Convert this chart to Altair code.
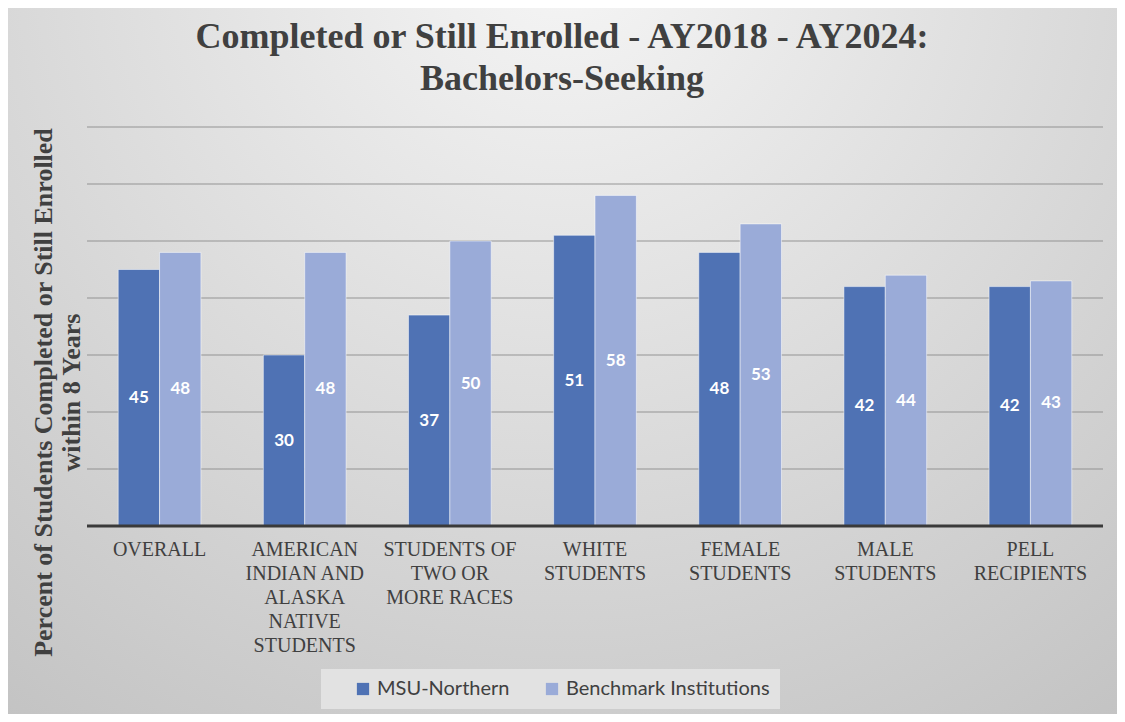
import altair as alt
import pandas as pd

# Categories (line breaks marked with "|").
CATEGORIES = [
    "OVERALL",
    "AMERICAN|INDIAN AND|ALASKA|NATIVE|STUDENTS",
    "STUDENTS OF|TWO OR|MORE RACES",
    "WHITE|STUDENTS",
    "FEMALE|STUDENTS",
    "MALE|STUDENTS",
    "PELL|RECIPIENTS",
]
MSU_NORTHERN = [45, 30, 37, 51, 48, 42, 42]
BENCHMARK = [48, 48, 50, 58, 53, 44, 43]
SERIES = ["MSU-Northern", "Benchmark Institutions"]
GRID_VALUES = [10, 20, 30, 40, 50, 60, 70]

DARK = "#4f72b4"
LIGHT = "#9aabd8"
INK = "#404040"
SERIF = "Liberation Serif"
SANS = "Lato"

W, H = 1016, 399
PAD = {"left": 79, "top": 119, "right": 14, "bottom": 188}

rows = []
for cat, a, b in zip(CATEGORIES, MSU_NORTHERN, BENCHMARK):
    rows.append({"category": cat, "series": SERIES[0], "value": a})
    rows.append({"category": cat, "series": SERIES[1], "value": b})
df = pd.DataFrame(rows)

y_scale = alt.Scale(domain=[0, 70], nice=False)
x_scale = alt.Scale(paddingInner=0.43, paddingOuter=0.215)

x_axis = alt.Axis(
    labelExpr="split(datum.label, '|')",
    labelAngle=0,
    labelFont=SERIF,
    labelFontSize=20,
    labelColor=INK,
    labelLineHeight=24,
    labelPadding=13,
    labelBaseline="top",
    labelLimit=200,
    ticks=False,
    domain=False,
    grid=False,
    zindex=1,
)
y_axis = alt.Axis(
    title=["Percent of  Students Completed or Still Enrolled", "within 8 Years"],
    labels=False,
    ticks=False,
    domain=False,
    grid=False,
    titleFont=SERIF,
    titleFontSize=26,
    titleFontWeight="bold",
    titleColor=INK,
    titleLineHeight=28,
    titleAngle=270,
    titleAlign="center",
    titleBaseline="middle",
    titleX=-44,
    titleY=265,
    titleLimit=700,
    zindex=1,
)

# Full-canvas radial gradient behind everything (Excel chart-area fill).
background = (
    alt.Chart(alt.Data(values=[{}]))
    .mark_rect(
        fill={
            "gradient": "radial",
            "x1": 0.5, "y1": 0.12, "r1": 0,
            "x2": 0.5, "y2": 0.12, "r2": 0.95,
            "stops": [
                {"offset": 0, "color": "#f6f6f6"},
                {"offset": 1, "color": "#bebebe"},
            ],
        }
    )
    .encode(
        x=alt.value(-PAD["left"]),
        x2=alt.value(W + PAD["right"]),
        y=alt.value(-PAD["top"]),
        y2=alt.value(H + PAD["bottom"]),
    )
)

grid = (
    alt.Chart(pd.DataFrame({"value": GRID_VALUES}))
    .mark_rule(color="#8a8a8a", strokeWidth=1.5, opacity=0.6)
    .encode(y=alt.Y("value:Q", scale=y_scale, axis=y_axis), x=alt.value(0), x2=alt.value(W))
)

bars = (
    alt.Chart(df)
    .mark_bar(stroke="white", strokeWidth=1, strokeOpacity=0.5)
    .encode(
        x=alt.X("category:N", sort=CATEGORIES, scale=x_scale, title=None, axis=x_axis),
        xOffset=alt.XOffset("series:N", sort=SERIES),
        y=alt.Y("value:Q", scale=y_scale, axis=y_axis),
        color=alt.Color(
            "series:N",
            sort=SERIES,
            scale=alt.Scale(domain=SERIES, range=[DARK, LIGHT]),
            legend=alt.Legend(
                title=None,
                orient="none",
                direction="horizontal",
                legendX=234,
                legendY=542,
                fillColor="#e2e2e2",
                padding=10,
                symbolOffset=22,
                symbolType="square",
                symbolSize=150,
                symbolStrokeWidth=0,
                labelFont=SANS,
                labelFontSize=20,
                labelColor=INK,
                labelLimit=400,
                columnPadding=10,
                zindex=1,
            ),
        ),
    )
)

labels = (
    alt.Chart(df)
    .transform_calculate(mid="datum.value / 2")
    .mark_text(font=SANS, fontSize=17, fontWeight="bold", color="white")
    .encode(
        x=alt.X("category:N", sort=CATEGORIES, scale=x_scale, title=None, axis=x_axis),
        xOffset=alt.XOffset("series:N", sort=SERIES),
        y=alt.Y("mid:Q", scale=y_scale, axis=y_axis),
        text=alt.Text("value:Q"),
    )
)

baseline = (
    alt.Chart(pd.DataFrame({"value": [0]}))
    .mark_rule(color="#3a3a3a", strokeWidth=3)
    .encode(y=alt.Y("value:Q", scale=y_scale, axis=y_axis), x=alt.value(0), x2=alt.value(W))
)

chart = (
    alt.layer(background, grid, bars, labels, baseline)
    .properties(
        width=W,
        height=H,
        padding=PAD,
        autosize=alt.AutoSizeParams(type="none"),
        title=alt.TitleParams(
            ["Completed or Still Enrolled - AY2018 - AY2024:", "Bachelors-Seeking"],
            font=SERIF,
            fontSize=36,
            fontWeight="bold",
            color=INK,
            anchor="middle",
            dx=-33,
            dy=90,
            offset=0,
            lineHeight=42,
            limit=1000,
            zindex=1,
        ),
    )
    .configure_view(stroke=None)
    .configure(background="#c8c8c8")
)

chart.save("out.html", embed_options={"renderer": "svg", "actions": False})
